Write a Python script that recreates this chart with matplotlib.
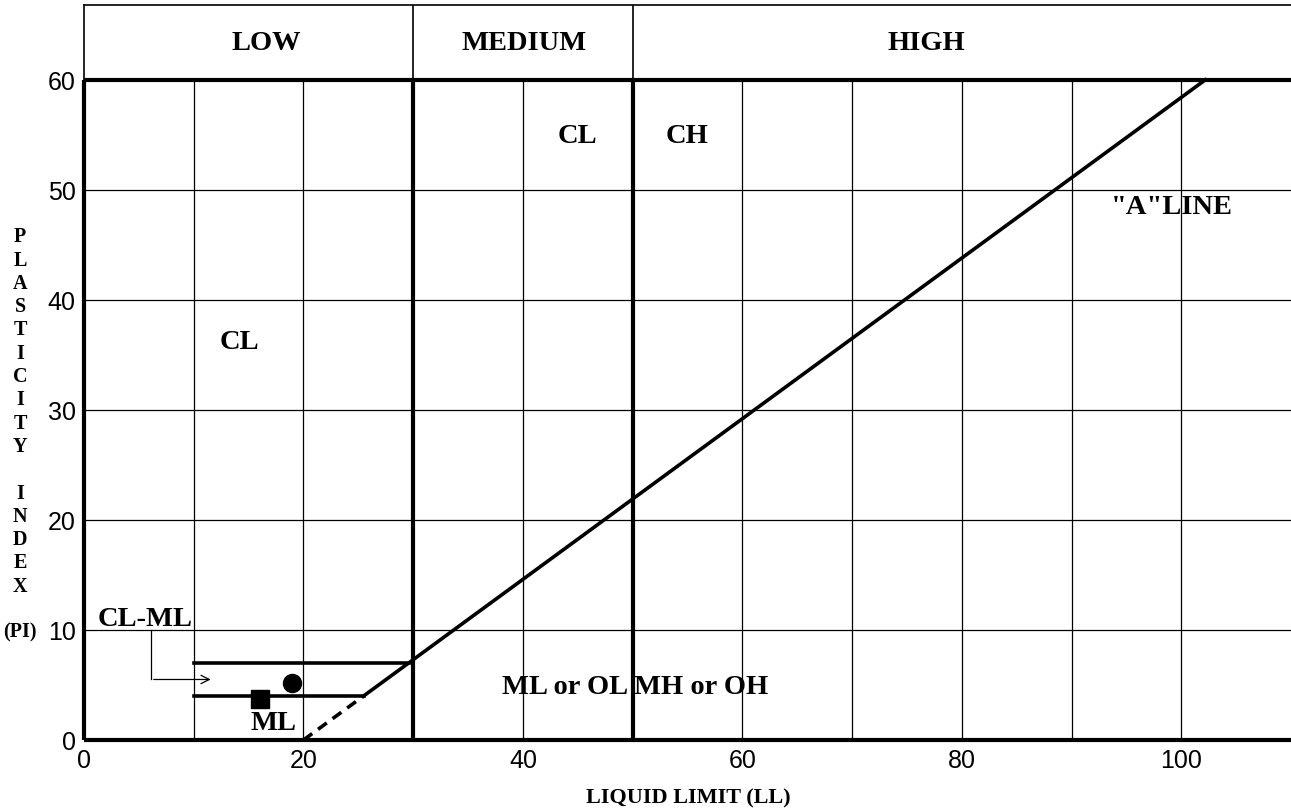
import matplotlib

matplotlib.use("Agg")
import matplotlib.pyplot as plt

# plasticity chart data
zone_bounds = [30, 50]                 # LL boundaries low / medium / high
zone_names = ["LOW", "MEDIUM", "HIGH"]
zone_label_x = [16.6, 40.1, 76.8]
a_line_slope = 0.73
a_line_ll0 = 20
clml_pi = [4, 7]                       # CL-ML band limits
clml_ll_start = 10
pi_max = 60
samples_ll = [19.0, 16.0]
samples_pi = [5.2, 3.7]
sample_markers = ["o", "s"]
region_labels = [
    ("CL", 14.2, 36.2),
    ("CL", 44.95, 54.9),
    ("CH", 55.0, 54.9),
    ('"A"LINE', 99.1, 48.5),
    ("CL-ML", 5.6, 11.0),
    ("ML", 17.3, 1.6),
    ("ML or OL", 43.8, 4.9),
    ("MH or OH", 56.2, 4.9),
]
x_ticks = [0, 20, 40, 60, 80, 100]
y_ticks = [0, 10, 20, 30, 40, 50, 60]
grid_x = [10, 20, 40, 60, 70, 80, 90, 100]
grid_y = [10, 20, 30, 40, 50]

SERIF = ["Liberation Serif", "DejaVu Serif"]
SANS = ["Liberation Sans", "DejaVu Sans"]
THICK = 3.0
THIN = 0.9
XMAX, YMAX = 110, 66.8

fig = plt.figure(figsize=(12.91, 8.12), dpi=100)
ax = fig.add_axes([84 / 1291, 1 - 741 / 812, 1 - 84 / 1291, 735 / 812])
ax.set_xlim(0, XMAX)
ax.set_ylim(0, YMAX)
for sp in ax.spines.values():
    sp.set_visible(False)

# grid
for gx in grid_x:
    ax.plot([gx, gx], [0, pi_max], color="black", lw=THIN, zorder=1)
for gy in grid_y:
    ax.plot([0, XMAX], [gy, gy], color="black", lw=THIN, zorder=1)

# frame
ax.plot([0, XMAX], [0, 0], color="black", lw=THICK, clip_on=False, solid_capstyle="butt")
ax.plot([0, XMAX], [pi_max, pi_max], color="black", lw=THICK, clip_on=False, solid_capstyle="butt")
ax.plot([0, 0], [0, pi_max], color="black", lw=THICK, clip_on=False, solid_capstyle="butt")
ax.plot([0, 0], [pi_max, YMAX], color="black", lw=1.2, clip_on=False)
ax.plot([0, XMAX], [YMAX, YMAX], color="black", lw=1.2, clip_on=False)
for b in zone_bounds:
    ax.plot([b, b], [0, pi_max], color="black", lw=THICK, solid_capstyle="butt")
    ax.plot([b, b], [pi_max, YMAX], color="black", lw=1.2)

# header
for name, lx in zip(zone_names, zone_label_x):
    ax.text(lx, (pi_max + YMAX) / 2, name, ha="center", va="center",
            family=SERIF, weight="bold", fontsize=20.5)

# A-line, dashed below the CL-ML band
ll_top = a_line_ll0 + pi_max / a_line_slope
ll_dash = a_line_ll0 + clml_pi[0] / a_line_slope
ax.plot([a_line_ll0, ll_dash], [0, clml_pi[0]], color="black", lw=2.6, ls=(0, (3, 2)))
ax.plot([ll_dash, ll_top], [clml_pi[0], pi_max], color="black", lw=2.6)

# CL-ML band
for p in clml_pi:
    ax.plot([clml_ll_start, a_line_ll0 + p / a_line_slope], [p, p], color="black", lw=2.6)

# pointer from the CL-ML label into the band
ax.annotate("", xy=(11.8, 5.5), xytext=(6.1, 5.5),
            arrowprops=dict(arrowstyle="->", lw=0.9, color="black", mutation_scale=15))
ax.plot([6.1, 6.1], [10.0, 5.5], color="black", lw=0.9)

# samples
for sx, sy, m in zip(samples_ll, samples_pi, sample_markers):
    ax.plot(sx, sy, marker=m, color="black", ms=13, ls="none", zorder=5)

for txt, tx, ty in region_labels:
    ax.text(tx, ty, txt, ha="center", va="center", family=SERIF,
            weight="bold", fontsize=20.5, zorder=6)

ax.set_xticks(x_ticks)
ax.set_yticks(y_ticks)
ax.tick_params(length=0, labelsize=18, pad=6)
for lab in ax.get_xticklabels() + ax.get_yticklabels():
    lab.set_family(SANS)

fig.text(688 / 1291, 1 - 798 / 812, "LIQUID LIMIT (LL)", ha="center", va="center",
         family=SERIF, weight="bold", fontsize=16)
fig.text(20 / 1291, 1 - 412 / 812, "\n".join("PLASTICITY") + "\n\n" + "\n".join("INDEX"),
         ha="center", va="center", family=SERIF, weight="bold", fontsize=14.5,
         linespacing=1.22, multialignment="center")
fig.text(20 / 1291, 1 - 632 / 812, "(PI)", ha="center", va="center",
         family=SERIF, weight="bold", fontsize=14.5)

fig.savefig("out.png", dpi=100)
